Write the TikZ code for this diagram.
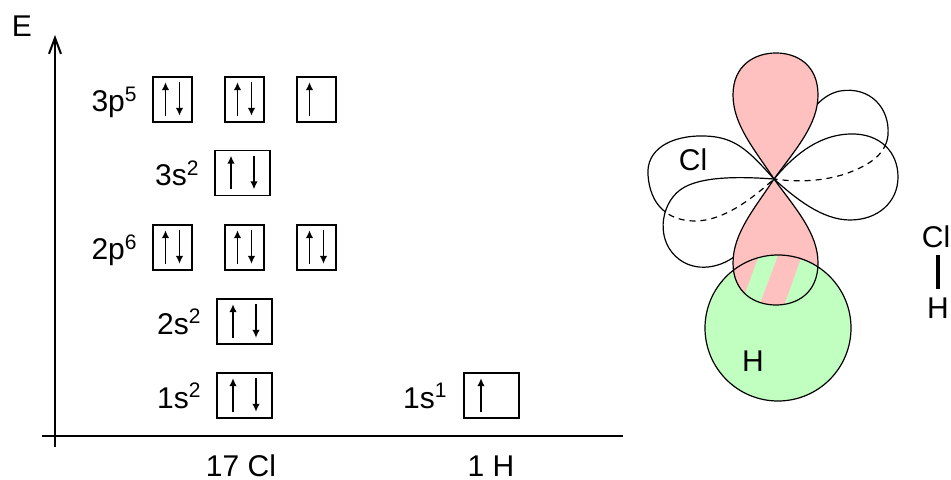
\documentclass[tikz,border=0pt]{standalone}
\usepackage{fontspec}
\setmainfont{Liberation Sans}
\usetikzlibrary{arrows.meta}

\definecolor{lobepink}{RGB}{255,192,192}
\definecolor{sgreen}{RGB}{192,255,192}

% spin arrows inside an orbital box: #1 box, #2 offset from the middle
\newcommand{\updn}[2]{%
  \draw[spin] ([xshift=-#2,yshift=3.5pt]#1.south) -- ([xshift=-#2,yshift=-3pt]#1.north);
  \draw[spin] ([xshift=#2,yshift=-3pt]#1.north) -- ([xshift=#2,yshift=3.5pt]#1.south);}
\newcommand{\uponly}[2]{%
  \draw[spin] ([xshift=-#2,yshift=3.5pt]#1.south) -- ([xshift=-#2,yshift=-3pt]#1.north);}

% lobes around the Cl nucleus
\newcommand{\lobeA}{(nuc) .. controls (748,150) and (735,137) .. (705,136) .. controls (670,135) and (646,150) .. (648,175) .. controls (650,205) and (668,221) .. (695,221) .. controls (725,221) and (755,196) .. cycle}
\newcommand{\lobeB}{(nuc) .. controls (745,177) and (700,175) .. (680,190) .. controls (660,205) and (655,242) .. (680,260) .. controls (700,274) and (727,266) .. (742,250) .. controls (757,234) and (768,205) .. cycle}
\newcommand{\lobeC}{(nuc) .. controls (790,160) and (815,135) .. (850,134) .. controls (880,133) and (898,152) .. (898,177) .. controls (898,202) and (878,220) .. (850,220) .. controls (822,220) and (795,198) .. cycle}
\newcommand{\lobeD}{(nuc) .. controls (795,150) and (805,98) .. (840,91) .. controls (870,86) and (890,108) .. (888,135) .. controls (886,155) and (868,166) .. (845,174) .. controls (820,182) and (795,182) .. cycle}
\newcommand{\pzTop}{(nuc) .. controls (755,150) and (733,125) .. (733,95) .. controls (733,65) and (755,53) .. (776,53) .. controls (797,53) and (818,65) .. (818,95) .. controls (818,125) and (795,150) .. cycle}
\newcommand{\pzBot}{(nuc) .. controls (755,208) and (733,233) .. (733,263) .. controls (733,293) and (755,305) .. (776,305) .. controls (797,305) and (818,293) .. (818,263) .. controls (818,233) and (795,208) .. cycle}

\begin{document}
\begin{tikzpicture}[x=0.5pt,y=-0.5pt,font=\fontsize{15}{18}\selectfont,
  orb box/.style={draw,line width=0.8pt,minimum height=22.5pt,inner sep=0pt},
  p box/.style={orb box,minimum width=19.5pt},
  s box/.style={orb box,minimum width=27.5pt},
  lbl/.style={inner sep=0pt,anchor=base east},
  spin/.style={line width=0.9pt,-{Latex[length=4pt,width=3.8pt]}},
  axis/.style={line width=1pt},
  lobe/.style={line width=0.6pt}]
  \useasboundingbox (0,0) rectangle (951,480);

  % energy axes
  \coordinate (ybot) at (55,447);
  \coordinate (ytop) at (55,35);
  \coordinate (xl) at (42,436);
  \coordinate (xr) at (623,436);
  \draw[axis,-{Straight Barb[length=8pt,width=6pt]}] (ybot) -- (ytop);
  \draw[axis] (xl) -- (xr);
  \node (E) at (22,26) {E};

  % levels of Cl
  \node[p box] (p3a) at (172.5,99.5) {};
  \node[p box] (p3b) at (244.5,99.5) {};
  \node[p box] (p3c) at (316.5,99.5) {};
  \node[s box] (s3) at (242.5,173) {};
  \node[p box] (p2a) at (172.5,247.5) {};
  \node[p box] (p2b) at (244.5,247.5) {};
  \node[p box] (p2c) at (316.5,247.5) {};
  \node[s box] (s2) at (244.5,321.5) {};
  \node[s box] (s1) at (244.5,395.5) {};
  % level of H
  \node[s box] (h1) at (491.5,395.5) {};

  \node[lbl] (l3p) at (138,112) {3p\textsuperscript{5}};
  \node[lbl] (l3s) at (200,186) {3s\textsuperscript{2}};
  \node[lbl] (l2p) at (138,260) {2p\textsuperscript{6}};
  \node[lbl] (l2s) at (202,334) {2s\textsuperscript{2}};
  \node[lbl] (l1s) at (202,408) {1s\textsuperscript{2}};
  \node[lbl] (lh1) at (448,408) {1s\textsuperscript{1}};

  \updn{p3a}{3.5pt} \updn{p3b}{3.5pt} \uponly{p3c}{3.5pt}
  \updn{s3}{5.75pt}
  \updn{p2a}{3.5pt} \updn{p2b}{3.5pt} \updn{p2c}{3.5pt}
  \updn{s2}{5.75pt}
  \updn{s1}{5.75pt}
  \uponly{h1}{5.25pt}

  \node[anchor=base] (zcl) at (241,476) {17 Cl};
  \node[anchor=base] (zh) at (491,476) {1 H};

  % p orbitals of Cl and 1s of H
  \coordinate (nuc) at (774,179);
  \filldraw[lobe,fill=white] \lobeD;
  \filldraw[lobe,fill=white] \lobeA;
  \filldraw[lobe,fill=white] \lobeC;
  \begin{scope}
    \clip \lobeC;
    \draw[lobe,dash pattern=on 3pt off 2.5pt] \lobeD;
  \end{scope}
  \filldraw[lobe,fill=white] \lobeB;
  \begin{scope}
    \clip \lobeB;
    \draw[lobe,dash pattern=on 3pt off 2.5pt] \lobeA;
  \end{scope}
  \fill[sgreen] (778,328) circle[radius=73];
  \fill[lobepink] \pzTop;
  \fill[lobepink] \pzBot;
  % overlap region
  \begin{scope}
    \clip (778,328) circle[radius=73];
    \clip \pzBot;
    \fill[sgreen] (761,250) -- (780,250) -- (757.5,310) -- (739,310) -- cycle;
    \fill[sgreen] (804,250) -- (840,250) -- (840,310) -- (782.5,310) -- cycle;
  \end{scope}
  \draw[lobe] \pzTop;
  \draw[lobe] \pzBot;
  \draw[lobe] (778,328) circle[radius=73];
  \node (clo) at (693,160) {Cl};
  \node (ho) at (753,361) {H};

  % structural formula
  \node (clf) at (936,237) {Cl};
  \node (hf) at (938,308) {H};
  \draw[line width=1.6pt,shorten <=1pt,shorten >=0pt] (hf.north) -- (hf.north |- clf.south);
\end{tikzpicture}
\end{document}
